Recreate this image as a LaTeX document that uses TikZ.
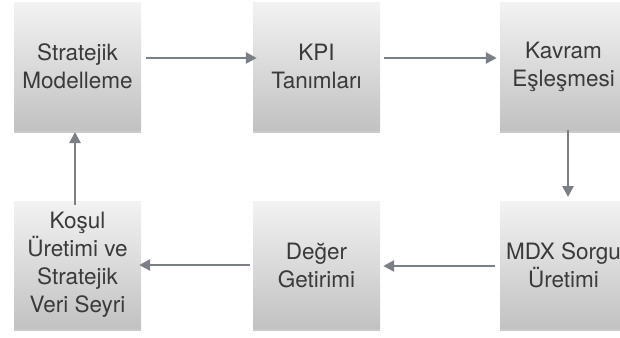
\documentclass[tikz,border=0pt]{standalone}
\usepackage{fontspec}
\setmainfont{TeX Gyre Heros}
\usetikzlibrary{arrows.meta,shadows}
\definecolor{arrowgray}{HTML}{7B8087}
\definecolor{txtgray}{HTML}{3A3A3A}
\tikzset{
  procbox/.style={minimum width=127pt, minimum height=127pt, inner sep=0pt,
    top color=white!95!black, bottom color=black!24,
    drop shadow={shadow xshift=0pt, shadow yshift=-2.5pt, opacity=0.35, fill=black!60},
    align=center, text=txtgray,
    font=\fontsize{22.5pt}{28pt}\selectfont},
  flow/.style={draw=arrowgray, line width=2.6pt,
    -{Triangle[length=11pt,width=11pt]}}
}
\begin{document}
\begin{tikzpicture}[x=1pt,y=-1pt]
\useasboundingbox (0,0) rectangle (620,337);
\begin{scope}
\clip (0,0) rectangle (620,337);
\node[procbox] (a) at (77.5,66.5) {Stratejik\\Modelleme};
\node[procbox] (b) at (316.5,66.5) {KPI\\Tanımları};
\node[procbox] (c) at (563.5,66.5) {Kavram\\Eşleşmesi};
\node[procbox] (d) at (563.5,265) {MDX Sorgu\\Üretimi};
\node[procbox] (e) at (316.5,265) {Değer\\Getirimi};
\node[procbox] (f) at (77.5,265) {Koşul\\Üretimi ve\\Stratejik\\Veri Seyri};
\draw[flow] ([xshift=5pt]a.east |- 0,58) -- ([xshift=4pt]b.west |- 0,58);
\draw[flow] ([xshift=4pt]b.east |- 0,58) -- ([xshift=-3pt]c.west |- 0,58);
\draw[flow] (568,130) -- (568,197);
\draw[flow] ([xshift=-5pt]d.west |- 0,266) -- ([xshift=3pt]e.east |- 0,266);
\draw[flow] ([xshift=-3pt]e.west |- 0,265) -- ([xshift=-2pt]f.east |- 0,265);
\draw[flow] (75,205) -- (75,132);
\end{scope}
\end{tikzpicture}
\end{document}
